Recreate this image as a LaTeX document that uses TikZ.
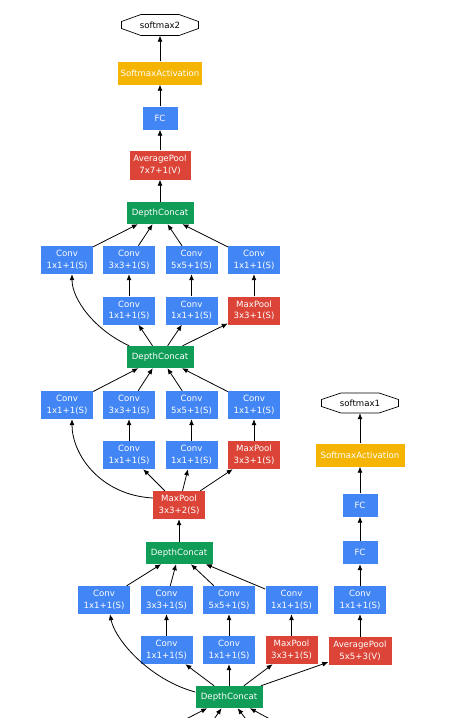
\documentclass[tikz,border=0pt]{standalone}
\usepackage{fontspec}
\setmainfont{DejaVu Sans}
\usetikzlibrary{arrows.meta}
\definecolor{gblue}{HTML}{4285F4}
\definecolor{gred}{HTML}{DB4437}
\definecolor{ggreen}{HTML}{0F9D58}
\definecolor{gyellow}{HTML}{F4B400}
\begin{document}
\begin{tikzpicture}[x=1pt,y=-1pt,
  box/.style={rectangle, inner sep=0pt, text=white, align=center, font=\fontsize{8.6}{11.5}\selectfont},
  conv/.style={box, fill=gblue, minimum width=52pt, minimum height=28pt},
  pool/.style={box, fill=gred, minimum width=52pt, minimum height=28pt},
  apool/.style={box, fill=gred, minimum width=62pt, minimum height=28pt},
  concat/.style={box, fill=ggreen, minimum width=67pt, minimum height=22pt},
  fc/.style={box, fill=gblue, minimum width=35pt, minimum height=23pt},
  act/.style={box, fill=gyellow, minimum width=86pt, minimum height=23pt},
  outn/.style={rectangle, inner sep=0pt, minimum width=77pt, minimum height=21pt, text=black, font=\fontsize{8.6}{11.5}\selectfont},
  octa/.style={draw=black, line width=0.7pt, fill=white},
  edge/.style={draw=black, line width=0.8pt, -{Latex[length=6pt,width=5pt]}},
]
\useasboundingbox (0,0) rectangle (465,718);
\clip (0,0) rectangle (465,718);
\fill[white] (0,0) rectangle (465,718);

% ---------- top (main) output ----------
\draw[octa] (160,25) ++(-19,-10.5) -- ++(38,0) -- ++(19.5,7) -- ++(0,7) -- ++(-19.5,7) -- ++(-38,0) -- ++(-19.5,-7) -- ++(0,-7) -- cycle;
\node[outn] (tout) at (160,25) {softmax2};
\node[act, minimum width=84pt] (tact) at (160,73) {SoftmaxActivation};
\node[fc] (tfc) at (160,118) {FC};
\node[apool, minimum width=61pt, minimum height=29pt] (tap) at (160,165) {AveragePool\\7x7+1(V)};
\node[concat] (tdc) at (160,213) {DepthConcat};

% top inception block
\node[conv] (t1a) at (67,260) {Conv\\1x1+1(S)};
\node[conv] (t1b) at (129,260) {Conv\\3x3+1(S)};
\node[conv] (t1c) at (191.5,260) {Conv\\5x5+1(S)};
\node[conv] (t1d) at (254,260) {Conv\\1x1+1(S)};
\node[conv] (t2b) at (129,310.5) {Conv\\1x1+1(S)};
\node[conv] (t2c) at (191.5,310.5) {Conv\\1x1+1(S)};
\node[pool] (t2d) at (254,310.5) {MaxPool\\3x3+1(S)};
\node[concat] (mdc) at (160,357) {DepthConcat};

% middle inception block
\node[conv] (m1a) at (67,405) {Conv\\1x1+1(S)};
\node[conv] (m1b) at (129,405) {Conv\\3x3+1(S)};
\node[conv] (m1c) at (191.5,405) {Conv\\5x5+1(S)};
\node[conv] (m1d) at (254,405) {Conv\\1x1+1(S)};
\node[conv] (m2b) at (129,455) {Conv\\1x1+1(S)};
\node[conv] (m2c) at (191.5,455) {Conv\\1x1+1(S)};
\node[pool] (m2d) at (254,455) {MaxPool\\3x3+1(S)};
\node[pool] (mpA) at (179,505) {MaxPool\\3x3+2(S)};
\node[concat] (bdc) at (179,553) {DepthConcat};

% bottom inception block
\node[conv] (b1a) at (104,600) {Conv\\1x1+1(S)};
\node[conv] (b1b) at (166.5,600) {Conv\\3x3+1(S)};
\node[conv] (b1c) at (229,600) {Conv\\5x5+1(S)};
\node[conv] (b1d) at (291.5,600) {Conv\\1x1+1(S)};
\node[conv] (b2b) at (166.5,650) {Conv\\1x1+1(S)};
\node[conv] (b2c) at (229,650) {Conv\\1x1+1(S)};
\node[pool] (b2d) at (291.5,650) {MaxPool\\3x3+1(S)};
\node[concat] (indc) at (229,697) {DepthConcat};

% side branch
\node[apool, minimum width=63pt] (sap) at (360,651) {AveragePool\\5x5+3(V)};
\node[conv] (sconv) at (360,600) {Conv\\1x1+1(S)};
\node[fc] (sfc1) at (360,552.5) {FC};
\node[fc] (sfc2) at (360,505) {FC};
\node[act, minimum width=89pt] (sact) at (360,455) {SoftmaxActivation};
\draw[octa] (360,403) ++(-19,-10) -- ++(38,0) -- ++(19.5,6.5) -- ++(0,7) -- ++(-19.5,6.5) -- ++(-38,0) -- ++(-19.5,-6.5) -- ++(0,-7) -- cycle;
\node[outn, minimum height=20pt] (sout) at (360,403) {softmax1};

% incoming edges from below
\coordinate (in1) at (145,740);
\coordinate (in2) at (200,740);
\coordinate (in3) at (262,740);
\coordinate (in4) at (309,740);

% ---------- edges ----------
\draw[edge] (tap) -- (tfc);
\draw[edge] (tfc) -- (tact);
\draw[edge] (tact) -- (tout.south);
\draw[edge] (tdc) -- (tap);
\foreach \n in {t1a,t1b,t1c,t1d} \draw[edge] (\n) -- (tdc);
\draw[edge] (t2b) -- (t1b);
\draw[edge] (t2c) -- (t1c);
\draw[edge] (t2d) -- (t1d);
\draw[edge] (mdc) -- (t2b);
\draw[edge] (mdc) -- (t2c);
\draw[edge] (mdc) -- (t2d);
\draw[edge] ([xshift=3pt]mdc.north west) .. controls +(-35,-16) and +(0,25) .. ([xshift=5pt]t1a.south);

\foreach \n in {m1a,m1b,m1c,m1d} \draw[edge] (\n) -- (mdc);
\draw[edge] (m2b) -- (m1b);
\draw[edge] (m2c) -- (m1c);
\draw[edge] (m2d) -- (m1d);
\draw[edge] (mpA) -- (m2b);
\draw[edge] (mpA) -- (m2c);
\draw[edge] (mpA) -- (m2d);
\draw[edge] ([yshift=7pt]mpA.west) .. controls +(-53,-3) and +(0,35) .. ([xshift=5pt]m1a.south);
\draw[edge] (bdc) -- (mpA);

\foreach \n in {b1a,b1b,b1c,b1d} \draw[edge] (\n) -- (bdc);
\draw[edge] (b2b) -- (b1b);
\draw[edge] (b2c) -- (b1c);
\draw[edge] (b2d) -- (b1d);
\draw[edge] (indc) -- (b2b);
\draw[edge] (indc) -- (b2c);
\draw[edge] (indc) -- (b2d);
\draw[edge] (indc) -- (sap);
\draw[edge] ([yshift=5pt]indc.west) .. controls +(-45,-12) and +(5,26) .. ([xshift=6pt]b1a.south);

\draw[edge] (sap) -- (sconv);
\draw[edge] (sconv) -- (sfc1);
\draw[edge] (sfc1) -- (sfc2);
\draw[edge] (sfc2) -- (sact);
\draw[edge] (sact) -- (sout.south);

\foreach \n in {in1,in2,in3,in4} \draw[edge] (\n) -- (indc);
\end{tikzpicture}
\end{document}
